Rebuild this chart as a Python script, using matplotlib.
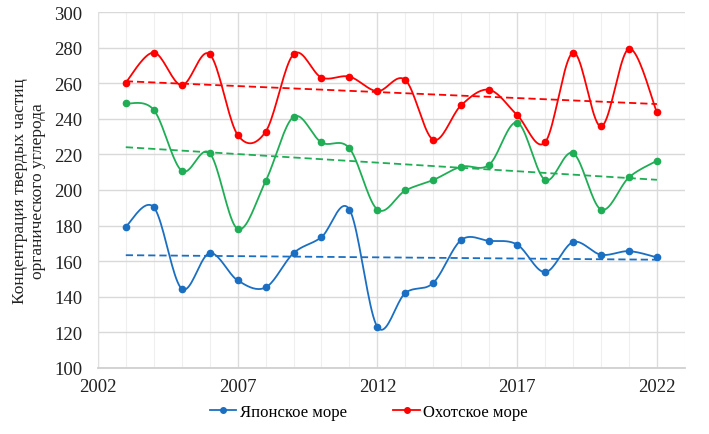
import numpy as np
import matplotlib
matplotlib.use('Agg')
import matplotlib.pyplot as plt
from matplotlib.lines import Line2D

plt.rcParams['font.family'] = ['Liberation Serif', 'DejaVu Serif']

years = np.arange(2003, 2023)
japan = [179.4, 190.3, 144.5, 164.5, 149.2, 145.2, 164.5, 173.5, 189.0, 123.0,
         142.1, 147.8, 171.9, 171.4, 169.3, 153.8, 170.7, 163.6, 165.6, 162.1]
okhotsk = [260.4, 277.2, 258.9, 276.3, 231.0, 232.7, 276.3, 263.2, 263.7, 255.5,
           261.8, 228.2, 247.7, 256.3, 242.1, 226.8, 277.2, 235.7, 279.4, 243.6]
third = [248.6, 245.0, 210.8, 220.7, 178.1, 204.9, 241.1, 226.7, 223.4, 189.0,
         199.7, 205.6, 213.1, 214.2, 237.9, 205.6, 220.7, 189.0, 207.1, 216.4]

xticks = [2002, 2007, 2012, 2017, 2022]
yticks = np.arange(100, 301, 20)


def catmull_rom(x, y, n=20):
    # smooth curve through the points, like Excel's "smoothed line"
    x = np.asarray(x, float)
    y = np.asarray(y, float)
    px = np.concatenate([[x[0]], x, [x[-1]]])
    py = np.concatenate([[y[0]], y, [y[-1]]])
    xs, ys = [], []
    t = np.linspace(0, 1, n, endpoint=False)
    for i in range(1, len(px) - 2):
        p0, p1, p2, p3 = px[i-1], px[i], px[i+1], px[i+2]
        q0, q1, q2, q3 = py[i-1], py[i], py[i+1], py[i+2]
        # bezier control points
        c1x, c1y = p1 + (p2 - p0) / 6, q1 + (q2 - q0) / 6
        c2x, c2y = p2 - (p3 - p1) / 6, q2 - (q3 - q1) / 6
        bx = (1-t)**3*p1 + 3*(1-t)**2*t*c1x + 3*(1-t)*t**2*c2x + t**3*p2
        by = (1-t)**3*q1 + 3*(1-t)**2*t*c1y + 3*(1-t)*t**2*c2y + t**3*q2
        xs.extend(bx)
        ys.extend(by)
    xs.append(x[-1])
    ys.append(y[-1])
    return np.array(xs), np.array(ys)


fig = plt.figure(figsize=(7.09, 4.35), dpi=100)
ax = fig.add_axes([0.138, 0.152, 0.828, 0.818])

series = [(japan, '#1b6fc2'), (okhotsk, '#ff0000'), (third, '#1fae55')]
for vals, col in series:
    sx, sy = catmull_rom(years, vals)
    ax.plot(sx, sy, color=col, lw=1.3, zorder=3)
    ax.plot(years, vals, 'o', color=col, ms=4.5, zorder=4)
    k, b = np.polyfit(years, vals, 1)
    ax.plot(years[[0, -1]], k * years[[0, -1]] + b, '--', color=col,
            lw=1.3, dashes=(4, 2.2), zorder=2)

ax.set_xlim(2002, 2023)
ax.set_ylim(100, 300)
ax.set_xticks(xticks)
ax.set_xticks(np.arange(2002, 2024), minor=True)
ax.set_yticks(yticks)
ax.grid(True, axis='y', color='#d9d9d9', lw=1.0)
ax.grid(True, axis='x', which='minor', color='#efefef', lw=0.8)
ax.grid(True, axis='x', which='major', color='#dcdcdc', lw=1.0)
ax.set_axisbelow(True)
for s in ['top', 'right']:
    ax.spines[s].set_visible(False)
ax.spines['left'].set_color('#e0e0e0')
ax.spines['bottom'].set_color('#d0d0d0')
ax.spines['bottom'].set_linewidth(1.3)
ax.tick_params(axis='both', which='both', length=0, labelsize=13.5, colors='#222222')
ax.tick_params(axis='x', pad=7)
ax.tick_params(axis='y', pad=11)
ax.set_ylabel('Концентрация твердых частиц\nорганического углерода',
              fontsize=12.5, labelpad=6, color='#222222')

handles = [Line2D([0], [0], color='#1b6fc2', lw=1.3, marker='o', ms=4),
           Line2D([0], [0], color='#ff0000', lw=1.3, marker='o', ms=4)]
fig.legend(handles, ['Японское море', 'Охотское море'], loc='center',
           bbox_to_anchor=(0.52, 0.05), ncol=2, frameon=False, fontsize=12,
           handlelength=1.6, handletextpad=0.2, columnspacing=2.8)

fig.savefig('out.png', dpi=100)
